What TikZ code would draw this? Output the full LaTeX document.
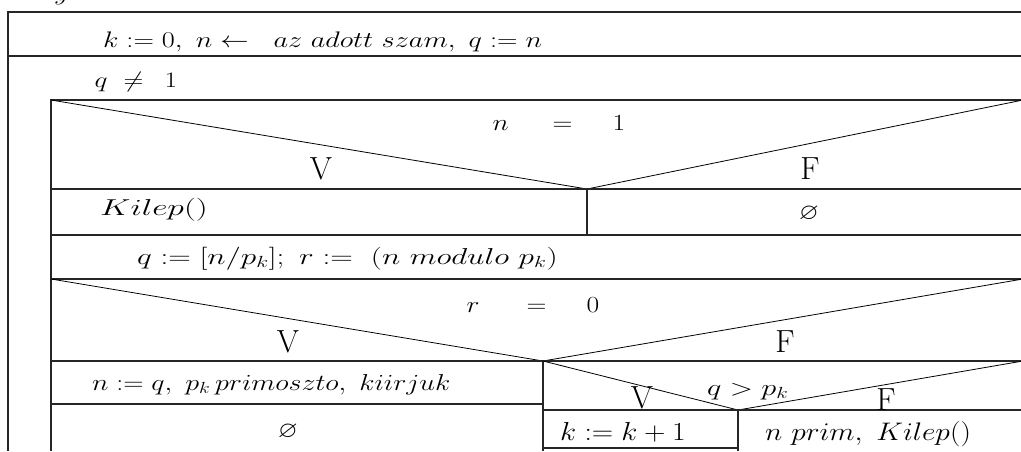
\RequirePackage{fix-cm}
\documentclass[tikz,border=0pt]{standalone}
\usepackage{amssymb}
\usepackage{graphicx}
\newcommand\sx[2]{\scalebox{#1}[1]{#2}}
\newcommand\placeat[2]{\makebox[0pt][l]{\hspace{#1}#2}}
\begin{document}
\begin{tikzpicture}[x=1pt,y=-1pt,
  frame/.style={line width=1.4pt,draw=black!85},
  heavy/.style={line width=2.6pt,draw=black!85},
  diag/.style={line width=0.8pt,draw=black},
  txt/.style={inner sep=0pt,anchor=base west,font=\fontsize{23}{28}\selectfont},
  ctxt/.style={inner sep=0pt,anchor=base,font=\fontsize{23}{28}\selectfont},
  lbl/.style={inner sep=0pt,anchor=base,font=\fontsize{32}{36}\selectfont},
]
\useasboundingbox (0,0) rectangle (1021,451);
% cut-off text above the diagram
\node[txt,font=\fontsize{22.5}{27}\selectfont] (cut) at (54,0.5) {\sx{1.26}{$y$}};
% outer frame
\draw[frame] (8,451) -- (8,12) -- (1023,12);
\draw[heavy] (8,56) -- (1023,56);
\draw[frame] (51,451) -- (51,100) -- (1023,100);
% first decision
\draw[diag] (51,100) -- (587,189) -- (1023,100);
\draw[frame] (51,189) -- (1023,189);
\draw[frame] (587,189) -- (587,235);
\draw[frame] (51,235) -- (1023,235);
\draw[frame] (51,279) -- (1023,279);
% second decision
\draw[diag] (51,279) -- (543,361) -- (1023,279);
\draw[frame] (51,361) -- (1023,361);
\draw[frame] (543,361) -- (543,451);
\draw[frame] (51,404) -- (543,404);
% third decision
\draw[diag] (543,361) -- (738,410) -- (1023,361);
\draw[frame] (543,410) -- (1023,410);
\draw[frame] (738,410) -- (738,451);
\draw[frame] (543,448) -- (738,448);
% texts
\node[txt,font=\fontsize{22.5}{27}\selectfont] (init) at (103,47)
  {\sx{1.26}{$k:=0,\ n\leftarrow\ \ az\ adott\ szam,\ q:=n$}};
\node[txt,font=\fontsize{22}{26}\selectfont] (loop) at (94,87)
  {\placeat{0pt}{\sx{1.25}{$q$}}\placeat{29pt}{\sx{1.25}{$\neq$}}\placeat{70pt}{\sx{1.25}{$1$}}\hspace{86pt}};
\node[txt] (c1) at (492,130)
  {\placeat{0pt}{\sx{1.2}{$n$}}\placeat{60pt}{\sx{1.2}{$=$}}\placeat{120pt}{\sx{1.2}{$1$}}\hspace{135pt}};
\node[lbl] (v1) at (321,179) {V};
\node[lbl] (f1) at (810,179) {F};
\node[txt] (kil1) at (100,215) {\sx{1.46}{$Kilep()$}};
\node[ctxt] (e1) at (809,219) {\sx{1.1}{$\varnothing$}};
\node[txt] (assign) at (137,264) {\sx{1.36}{$q:=[n/p_k];\ r:=\ (n\ modulo\ p_k)$}};
\node[txt] (c2) at (466,312)
  {\placeat{0pt}{\sx{1.2}{$r$}}\placeat{60pt}{\sx{1.2}{$=$}}\placeat{120pt}{\sx{1.2}{$0$}}\hspace{135pt}};
\node[lbl] (v2) at (288,352) {V};
\node[lbl] (f2) at (785,352) {F};
\node[txt] (prim) at (92,390) {\sx{1.22}{$n:=q,\ p_k\,primoszto,\ kiirjuk$}};
\node[ctxt] (e2) at (288,437) {\sx{1.1}{$\varnothing$}};
\node[txt] (c3) at (707,395) {\sx{1.32}{$q>p_k$}};
\node[lbl] (v3) at (642,408) {V};
\node[lbl] (f3) at (886,410) {F};
\node[txt,font=\fontsize{26}{30}\selectfont] (inc) at (560,440) {\sx{1.14}{$k:=k+1$}};
\node[txt,font=\fontsize{25.4}{30}\selectfont] (kil2) at (765,440) {\sx{1.16}{$n\ prim,\ Kilep()$}};
\end{tikzpicture}
\end{document}
